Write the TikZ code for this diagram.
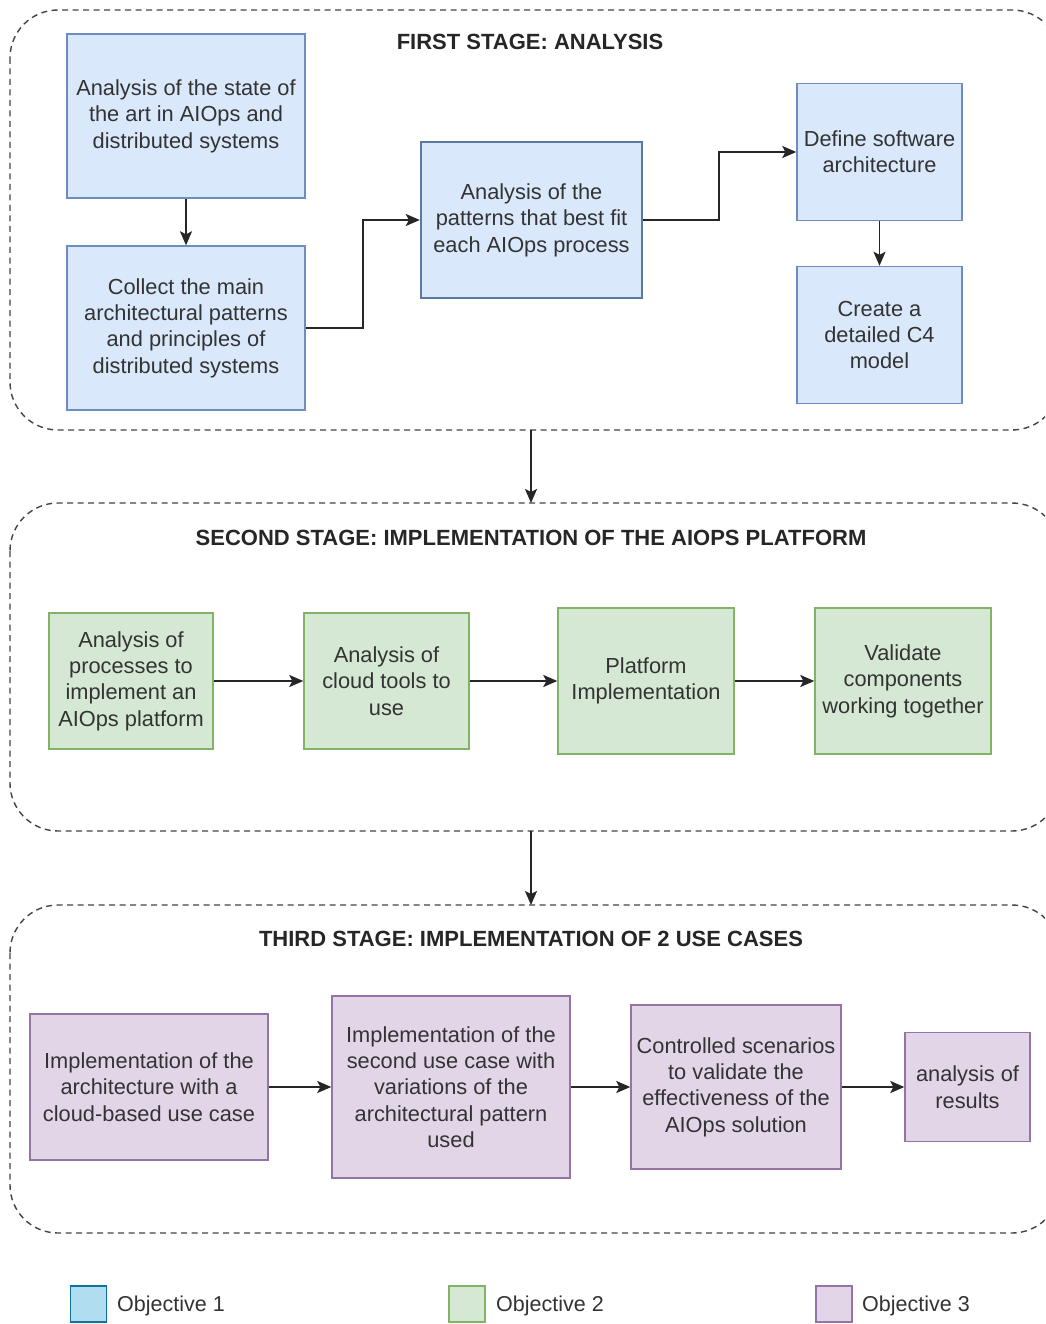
\documentclass[tikz,border=0pt]{standalone}
\usepackage{fontspec}
\setmainfont{Liberation Sans}
\usetikzlibrary{arrows.meta}
\definecolor{txt}{HTML}{333333}
\definecolor{blueF}{HTML}{DAE8FC}
\definecolor{blueD}{HTML}{6C8EBF}
\definecolor{greenF}{HTML}{D5E8D4}
\definecolor{greenD}{HTML}{82B366}
\definecolor{purpleF}{HTML}{E1D5E7}
\definecolor{purpleD}{HTML}{9673A6}
\definecolor{legBlueF}{HTML}{B1DDF0}
\definecolor{legBlueD}{HTML}{10739E}
\definecolor{frame}{HTML}{444444}
\tikzset{
  box/.style={rectangle, inner sep=0pt, align=center, text=txt,
    font=\fontsize{21.8}{26.4}\selectfont, line width=1.4pt},
  bluebox/.style={box, fill=blueF, draw=blueD},
  greenbox/.style={box, fill=greenF, draw=greenD},
  purplebox/.style={box, fill=purpleF, draw=purpleD},
  stage/.style={draw=frame, dash pattern=on 6pt off 4.5pt, line width=1.4pt, rounded corners=48pt},
  stagetitle/.style={font=\fontsize{22}{26}\selectfont\bfseries, text=black!85, inner sep=0pt},
  link/.style={draw=black!85, line width=1.8pt, -{Stealth[length=14pt,width=12pt,inset=3pt]}},
  legsw/.style={rectangle, minimum width=36pt, minimum height=36pt, inner sep=0pt, line width=1.6pt},
  legtext/.style={font=\fontsize{21.5}{26}\selectfont, text=txt, anchor=west, inner sep=0pt}
}
\begin{document}
\begin{tikzpicture}[x=1pt,y=-1pt]
\useasboundingbox (0,0) rectangle (1045,1324);
\fill[white] (0,0) rectangle (1045,1324);

% stage frames (they run past the right edge)
\begin{scope}
  \clip (0,0) rectangle (1045,1324);
  \draw[stage] (10,10) rectangle (1060,430);
  \draw[stage] (10,503) rectangle (1060,831);
  \draw[stage] (10,905) rectangle (1060,1233);
\end{scope}
\node[stagetitle] (s1) at (530,42) {FIRST STAGE: ANALYSIS};
\node[stagetitle] (s2) at (531,538) {SECOND STAGE: IMPLEMENTATION OF THE AIOPS PLATFORM};
\node[stagetitle] (s3) at (531,939) {THIRD STAGE: IMPLEMENTATION OF 2 USE CASES};

% stage frame anchors for the stage-to-stage arrows
\coordinate (f1b) at (531,430);
\coordinate (f2t) at (531,503);
\coordinate (f2b) at (531,831);
\coordinate (f3t) at (531,905);

% first stage
\node[bluebox, minimum width=238pt, minimum height=164pt] (a1) at (186,116)
  {Analysis of the state of\\the art in AIOps and\\distributed systems};
\node[bluebox, minimum width=238pt, minimum height=164pt] (a2) at (186,328)
  {Collect the main\\architectural patterns\\and principles of\\distributed systems};
\node[bluebox, draw=blueD!85!black, line width=2.4pt, minimum width=221pt, minimum height=156pt] (a3) at (531.5,220)
  {Analysis of the\\patterns that best fit\\each AIOps process};
\node[bluebox, minimum width=165pt, minimum height=137pt] (a4) at (879.5,152)
  {Define software\\architecture};
\node[bluebox, minimum width=165pt, minimum height=137pt] (a5) at (879.5,335)
  {Create a\\detailed C4\\model};

\draw[link] (a1) -- (a2);
\draw[link] (a2.east) -- (363,328) |- (a3.west);
\draw[link] (a3.east) -- (719,220) |- (a4.west);
\draw[link] (a4) -- (a5);

\draw[link] (f1b) -- (f2t);

% second stage
\node[greenbox, minimum width=164pt, minimum height=136pt] (b1) at (131,681)
  {Analysis of\\processes to\\implement an\\AIOps platform};
\node[greenbox, minimum width=165pt, minimum height=136pt] (b2) at (386.5,681)
  {Analysis of\\cloud tools to\\use};
\node[greenbox, minimum width=176pt, minimum height=146pt] (b3) at (646,681)
  {Platform\\Implementation};
\node[greenbox, minimum width=176pt, minimum height=146pt] (b4) at (903,681)
  {Validate\\components\\working together};

\draw[link] (b1) -- (b2);
\draw[link] (b2) -- (b3);
\draw[link] (b3) -- (b4);

\draw[link] (f2b) -- (f3t);

% third stage
\node[purplebox, minimum width=238pt, minimum height=146pt] (c1) at (149,1087)
  {Implementation of the\\architecture with a\\cloud-based use case};
\node[purplebox, minimum width=238pt, minimum height=182pt] (c2) at (451,1087)
  {Implementation of the\\second use case with\\variations of the\\architectural pattern\\used};
\node[purplebox, minimum width=210pt, minimum height=164pt] (c3) at (736,1087)
  {Controlled scenarios\\to validate the\\effectiveness of the\\AIOps solution};
\node[purplebox, minimum width=125pt, minimum height=109pt] (c4) at (967.5,1087)
  {analysis of\\results};

\draw[link] (c1) -- (c2);
\draw[link] (c2) -- (c3);
\draw[link] (c3) -- (c4);

% legend
\node[legsw, fill=legBlueF, draw=legBlueD] (l1) at (88.5,1304) {};
\node[legtext] (l1t) at (117,1306) {Objective 1};
\node[legsw, fill=greenF, draw=greenD] (l2) at (467,1304) {};
\node[legtext] (l2t) at (496,1306) {Objective 2};
\node[legsw, fill=purpleF, draw=purpleD] (l3) at (834,1304) {};
\node[legtext] (l3t) at (862,1306) {Objective 3};
\end{tikzpicture}
\end{document}
